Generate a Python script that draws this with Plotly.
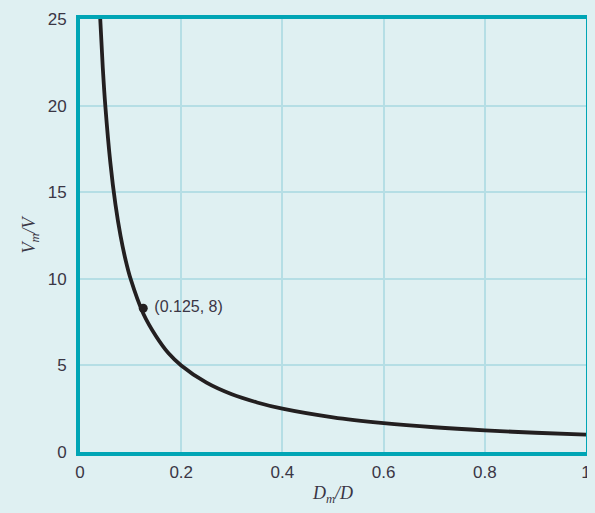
import plotly.graph_objects as go

# Data
dm_over_d = [0.04, 0.045, 0.05, 0.06, 0.07, 0.08, 0.09, 0.1, 0.125, 0.15, 0.175, 0.2,
             0.25, 0.3, 0.35, 0.4, 0.5, 0.6, 0.7, 0.8, 0.9, 1.0]
vm_over_v = [25, 22.2, 20, 16.7, 14.3, 12.5, 11.1, 10, 8, 6.7, 5.7, 5,
             4, 3.33, 2.86, 2.5, 2, 1.67, 1.43, 1.25, 1.11, 1.0]
point_x = [0.125]
point_y = [8.3]
point_label = ["(0.125, 8)"]

x_ticks = [0, 0.2, 0.4, 0.6, 0.8, 1]
x_ticklabels = ["0", "0.2", "0.4", "0.6", "0.8", "1"]
y_ticks = [0, 5, 10, 15, 20, 25]

BG = "#dff0f2"
TEAL = "#00a5b5"
GRID = "#b5dee5"
TXT = "#3a3645"

fig = go.Figure()
fig.add_trace(go.Scatter(x=dm_over_d, y=vm_over_v, mode="lines",
                         line=dict(color="#231f20", width=3.8, shape="spline"),
                         hoverinfo="skip", showlegend=False))
fig.add_trace(go.Scatter(x=point_x, y=point_y, mode="markers+text",
                         marker=dict(color="#231f20", size=9),
                         text=[" " + t for t in point_label], textposition="middle right",
                         textfont=dict(family="Liberation Sans, Arial, sans-serif", size=16, color=TXT),
                         showlegend=False))

fig.update_layout(
    width=587, height=505,
    margin=dict(l=72, r=9, t=11, b=61, autoexpand=False),
    paper_bgcolor=BG, plot_bgcolor=BG,
    font=dict(family="Liberation Sans, Arial, sans-serif", size=17, color=TXT),
)
fig.update_xaxes(range=[0, 1], tickvals=x_ticks, ticktext=x_ticklabels,
                 showgrid=True, gridcolor=GRID, gridwidth=1.5, zeroline=False,
                 showline=True, linecolor=TEAL, linewidth=4, mirror=True,
                 ticks="", ticklabelstandoff=2,
                 title=dict(text="<i>D<sub>m</sub>/D</i>", standoff=6,
                            font=dict(family="Liberation Serif, Times New Roman, serif", size=18, color=TXT)))
fig.update_yaxes(range=[0, 25], tickvals=y_ticks,
                 showgrid=True, gridcolor=GRID, gridwidth=1.5, zeroline=False,
                 showline=True, linecolor=TEAL, linewidth=4, mirror=True,
                 ticks="", ticklabelstandoff=6,
                 title=dict(text="<i>V<sub>m</sub>/V</i>", standoff=8,
                            font=dict(family="Liberation Serif, Times New Roman, serif", size=18, color=TXT)))

fig.write_html("out.html",
               post_script="document.body.style.background='%s';" % BG)
